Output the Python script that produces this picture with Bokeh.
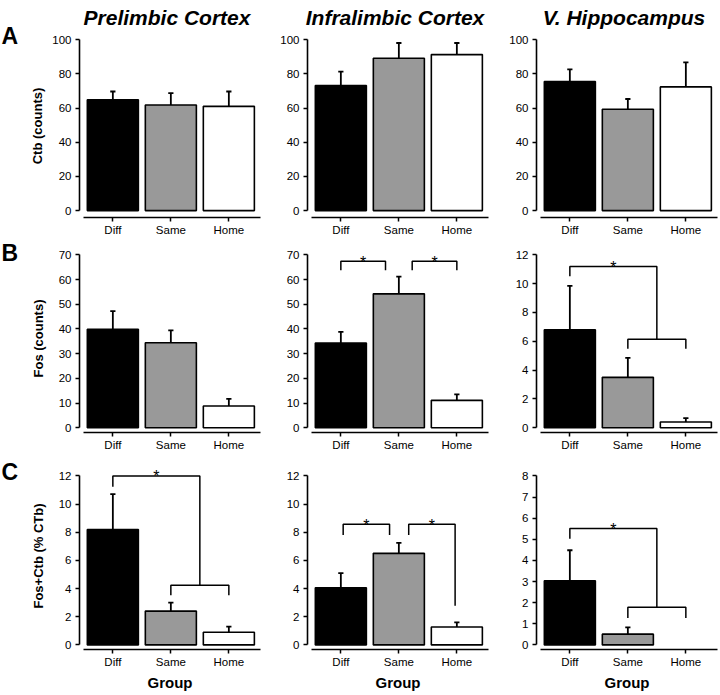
from bokeh.plotting import figure
from bokeh.models import FixedTicker, Range1d
from bokeh.layouts import row, column
from bokeh.core.properties import value
from bokeh.embed import file_html
from bokeh.resources import INLINE

FONT = "Liberation Sans"

# ---------------- data ----------------
groups = ["Diff", "Same", "Home"]
bar_colors = ["black", "#999999", "white"]
regions = ["Prelimbic Cortex", "Infralimbic Cortex", "V. Hippocampus"]
row_letters = ["A", "B", "C"]
y_titles = ["Ctb (counts)", "Fos (counts)", "Fos+Ctb (% CTb)"]

# Row A: Ctb counts
ctb_pl = [64.9, 61.8, 61.0]
ctb_pl_err = [4.8, 6.9, 8.7]
ctb_il = [73.2, 89.2, 91.3]
ctb_il_err = [8.1, 8.9, 6.8]
ctb_vh = [75.5, 59.3, 72.4]
ctb_vh_err = [7.1, 6.0, 14.3]

# Row B: Fos counts
fos_pl = [39.9, 34.4, 8.8]
fos_pl_err = [7.3, 5.0, 2.9]
fos_il = [34.3, 54.2, 11.1]
fos_il_err = [4.5, 7.0, 2.4]
fos_vh = [6.8, 3.5, 0.4]
fos_vh_err = [3.05, 1.35, 0.27]

# Row C: Fos+Ctb (% CTb)
dbl_pl = [8.2, 2.4, 0.9]
dbl_pl_err = [2.5, 0.6, 0.4]
dbl_il = [4.05, 6.5, 1.27]
dbl_il_err = [1.05, 0.75, 0.33]
dbl_vh = [3.04, 0.51, 0.0]
dbl_vh_err = [1.44, 0.32, 0.0]

# y-axis ticks
ticks_ctb = [0, 20, 40, 60, 80, 100]
ticks_fos = [0, 10, 20, 30, 40, 50, 60, 70]
ticks_fos_vh = [0, 2, 4, 6, 8, 10, 12]
ticks_dbl = [0, 2, 4, 6, 8, 10, 12]
ticks_dbl_vh = [0, 1, 2, 3, 4, 5, 6, 7, 8]

# significance brackets (polylines, group index / data units) and stars
br_none = []
st_none = ([], [])
br_fos_il = [([0.0, 0.0, 0.77, 0.77], [63.7, 67.4, 67.4, 63.7]),
             ([1.23, 1.23, 2.0, 2.0], [63.7, 67.4, 67.4, 63.7])]
st_fos_il = ([0.385, 1.615], [67.4, 67.4])
br_fos_vh = [([0.0, 0.0, 1.5, 1.5], [10.52, 11.19, 11.19, 6.15]),
             ([1.0, 1.0, 2.0, 2.0], [5.48, 6.15, 6.15, 5.48])]
st_fos_vh = ([0.75], [11.19])
br_dbl_pl = [([0.0, 0.0, 1.5, 1.5], [11.23, 12.0, 12.0, 4.24]),
             ([1.0, 1.0, 2.0, 2.0], [3.52, 4.24, 4.24, 3.52])]
st_dbl_pl = ([0.75], [12.0])
br_dbl_il = [([0.04, 0.04, 0.84, 0.84], [7.81, 8.57, 8.57, 7.81]),
             ([1.17, 1.17, 1.97, 1.97], [7.81, 8.57, 8.57, 2.78])]
st_dbl_il = ([0.44, 1.57], [8.57, 8.57])
br_dbl_vh = [([0.0, 0.0, 1.5, 1.5], [5.02, 5.51, 5.51, 1.78]),
             ([1.0, 1.0, 2.0, 2.0], [1.27, 1.78, 1.78, 1.27])]
st_dbl_vh = ([0.75], [5.51])

panels = [
    [(ctb_pl, ctb_pl_err, ticks_ctb, br_none, st_none),
     (ctb_il, ctb_il_err, ticks_ctb, br_none, st_none),
     (ctb_vh, ctb_vh_err, ticks_ctb, br_none, st_none)],
    [(fos_pl, fos_pl_err, ticks_fos, br_none, st_none),
     (fos_il, fos_il_err, ticks_fos, br_fos_il, st_fos_il),
     (fos_vh, fos_vh_err, ticks_fos_vh, br_fos_vh, st_fos_vh)],
    [(dbl_pl, dbl_pl_err, ticks_dbl, br_dbl_pl, st_dbl_pl),
     (dbl_il, dbl_il_err, ticks_dbl, br_dbl_il, st_dbl_il),
     (dbl_vh, dbl_vh_err, ticks_dbl_vh, br_dbl_vh, st_dbl_vh)],
]

# ---------------- geometry (page pixels) ----------------
LETTER_W = 26
col_x0 = [26, 264, 493]
col_w = [238, 229, 225]
col_mbl = [53, 43, 43]
col_mbr = [4, 5, 1]
PPX = 58.0
X_START = -0.575

TITLE_H = 32
row_y0 = [32, 238, 456]
row_h = [206, 218, 237]
row_mbt = [2, 6, 6]
row_mbb = [19, 24, 40]
row_ytop_px = [39.3, 254.3, 475.7]
row_yzero_px = [212.0, 427.3, 648.3]
TOTAL_H = TITLE_H + sum(row_h)
letter_base_px = [35.0, 252.7, 471.0]
title_base_px = 17.0
ylabel_standoff = [4, 10, 10]

BAR_W = 0.88
CAP = 0.045


def blank_fig(w, h, x0, y0):
    f = figure(width=w, height=h, x_range=Range1d(x0, x0 + w),
               y_range=Range1d(y0 + h, y0), output_backend="svg",
               toolbar_location=None, x_axis_location=None,
               y_axis_location=None, min_border=0)
    f.xgrid.visible = False
    f.ygrid.visible = False
    f.outline_line_color = None
    f.background_fill_color = "white"
    f.border_fill_color = "white"
    return f


# row letters (A, B, C) down the left edge
letters_fig = blank_fig(LETTER_W, TOTAL_H, 0, 0)
letters_fig.text(x=[1, 1, 1], y=letter_base_px, text=row_letters,
                 text_font=value(FONT), text_font_size="23px",
                 text_font_style="bold", text_align="left",
                 text_baseline="alphabetic", text_color="black")

# column titles
titles_w = sum(col_w)
titles_fig = blank_fig(titles_w, TITLE_H, col_x0[0], 0)
title_x = [col_x0[c] + col_mbl[c] + (col_w[c] - col_mbl[c] - col_mbr[c]) / 2.0 - 3
           for c in range(3)]
titles_fig.text(x=title_x, y=[title_base_px] * 3, text=regions,
                text_font=value(FONT), text_font_size="21px",
                text_font_style="bold italic", text_align="center",
                text_baseline="alphabetic", text_color="black")

rows = []
for r in range(3):
    row_figs = []
    for c in range(3):
        vals, errs, ticks, brackets, stars = panels[r][c]
        frame_w = col_w[c] - col_mbl[c] - col_mbr[c]
        x_end = X_START + frame_w / PPX
        frame_top = row_y0[r] + row_mbt[r]
        frame_bottom = row_y0[r] + row_h[r] - row_mbb[r]
        ymax = ticks[-1]
        ppy = (row_yzero_px[r] - row_ytop_px[r]) / ymax
        y_end = ymax + (row_ytop_px[r] - frame_top) / ppy
        y_start = -(frame_bottom - row_yzero_px[r]) / ppy

        p = figure(width=col_w[c], height=row_h[r],
                   x_range=(X_START, x_end), y_range=(y_start, y_end),
                   output_backend="svg", toolbar_location=None,
                   min_border_left=col_mbl[c], min_border_right=col_mbr[c],
                   min_border_top=row_mbt[r], min_border_bottom=row_mbb[r])
        p.xgrid.visible = False
        p.ygrid.visible = False
        p.outline_line_color = None
        p.background_fill_color = "white"
        p.border_fill_color = "white"

        # bars
        xs = [i for i, v in enumerate(vals) if v > 0]
        p.vbar(x=xs, top=[vals[i] for i in xs], bottom=0, width=BAR_W,
               fill_color=[bar_colors[i] for i in xs], line_color="black",
               line_width=1.6)
        # error bars (upper only)
        ex = [i for i, e in enumerate(errs) if e > 0]
        p.segment(x0=ex, y0=[vals[i] for i in ex], x1=ex,
                  y1=[vals[i] + errs[i] for i in ex],
                  line_color="black", line_width=1.8)
        p.segment(x0=[i - CAP for i in ex], y0=[vals[i] + errs[i] for i in ex],
                  x1=[i + CAP for i in ex], y1=[vals[i] + errs[i] for i in ex],
                  line_color="black", line_width=1.8)
        # brackets
        if brackets:
            p.multi_line(xs=[b[0] for b in brackets], ys=[b[1] for b in brackets],
                         line_color="black", line_width=1.5)
        if stars[0]:
            p.text(x=stars[0], y=stars[1], text=["*"] * len(stars[0]),
                   text_font=value(FONT), text_font_size="16px",
                   text_align="center", text_baseline="alphabetic",
                   y_offset=1, text_color="black")

        # axes
        yax = p.yaxis[0]
        yax.ticker = FixedTicker(ticks=ticks)
        yax.bounds = (0, ymax)
        xax = p.xaxis[0]
        xax.ticker = FixedTicker(ticks=[0, 1, 2])
        xax.major_label_overrides = {i: g for i, g in enumerate(groups)}
        xax.bounds = (-0.5, x_end)
        for ax in (xax, yax):
            ax.axis_line_width = 1.6
            ax.axis_line_color = "black"
            ax.major_tick_line_width = 1.5
            ax.major_tick_line_color = "black"
            ax.major_tick_out = 4
            ax.major_tick_in = 0
            ax.minor_tick_line_color = None
            ax.major_label_text_font = FONT
            ax.major_label_text_font_size = "11.5px"
            ax.major_label_text_color = "black"
            ax.axis_label_text_font = FONT
            ax.axis_label_text_font_style = "bold"
            ax.axis_label_text_color = "black"
        yax.major_label_standoff = 4
        xax.major_label_standoff = 2
        if c == 0:
            yax.axis_label = y_titles[r]
            yax.axis_label_text_font_size = "13px"
            yax.axis_label_standoff = ylabel_standoff[r]
        if r == 2:
            xax.axis_label = "Group"
            xax.axis_label_text_font_size = "15px"
            xax.axis_label_standoff = 3
        row_figs.append(p)
    rows.append(row(*row_figs))

layout = row(letters_fig, column(titles_fig, *rows))
open("out.html", "w").write(file_html(layout, INLINE))
